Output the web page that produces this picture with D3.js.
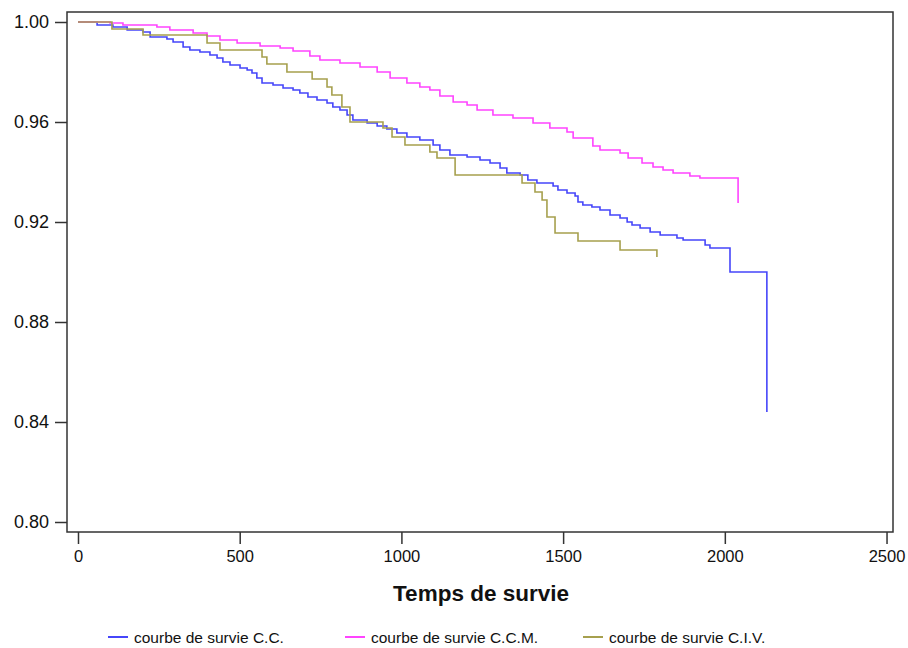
<!doctype html>
<html lang="fr">
<head>
  <meta charset="utf-8" />
  <title>Courbes de survie</title>
  <script src="https://cdn.jsdelivr.net/npm/d3@7"></script>
  <style>
    body { margin: 0; background: #fff; }
    text { font-family: Arial, "Liberation Sans", sans-serif; fill: #111; }
  </style>
</head>
<body>
  <div id="chart"></div>
  <script>
    // time (days) and survival estimate, one step per pair
    const ccTimes = [0, 59, 108, 152, 201, 223, 275, 294, 325, 346, 377, 408, 430, 448, 470, 501, 523, 538, 553, 569,
      603, 634, 665, 686, 711, 739, 770, 788, 810, 832, 850, 894, 925, 955, 986, 1017, 1057, 1098, 1119, 1150,
      1203, 1243, 1274, 1305, 1326, 1367, 1391, 1419, 1469, 1484, 1512, 1537, 1546, 1561, 1589, 1614, 1645, 1676,
      1698, 1713, 1738, 1769, 1800, 1852, 1871, 1939, 1954, 2016, 2130];
    const ccSurv = [1.000, 0.9988, 0.998, 0.9968, 0.996, 0.994, 0.9932, 0.992, 0.990, 0.9888, 0.988, 0.9868, 0.9856,
      0.984, 0.9828, 0.9816, 0.9808, 0.9796, 0.9776, 0.9756, 0.9748, 0.9736, 0.9728, 0.9716, 0.970, 0.9688, 0.9676,
      0.966, 0.9648, 0.9628, 0.9608, 0.9596, 0.9584, 0.9572, 0.9556, 0.954, 0.9528, 0.9508, 0.9488, 0.9468, 0.946,
      0.9448, 0.9436, 0.9416, 0.9396, 0.9388, 0.9368, 0.9356, 0.9344, 0.9328, 0.9316, 0.9304, 0.928, 0.9268, 0.926,
      0.9248, 0.9228, 0.9216, 0.920, 0.9188, 0.9176, 0.916, 0.9148, 0.9136, 0.9128, 0.9108, 0.9096, 0.900, 0.844];

    const ccmTimes = [0, 99, 139, 244, 284, 356, 399, 439, 492, 563, 625, 665, 717, 748, 810, 872, 925, 965, 1017,
      1057, 1088, 1119, 1160, 1203, 1234, 1283, 1345, 1407, 1459, 1512, 1531, 1592, 1614, 1676, 1701, 1744, 1778,
      1809, 1840, 1892, 1923, 2041];
    const ccmSurv = [1.000, 0.9996, 0.9988, 0.998, 0.9968, 0.9956, 0.9944, 0.9928, 0.9916, 0.9904, 0.9896, 0.9884,
      0.9864, 0.9848, 0.9836, 0.982, 0.980, 0.9776, 0.9756, 0.974, 0.9728, 0.9704, 0.968, 0.9668, 0.9648, 0.9628,
      0.9616, 0.9596, 0.9576, 0.956, 0.9536, 0.9504, 0.9488, 0.9476, 0.9456, 0.9436, 0.942, 0.9408, 0.9396, 0.9384,
      0.9376, 0.9276];

    const civTimes = [0, 105, 201, 399, 439, 569, 584, 646, 724, 770, 785, 816, 841, 943, 971, 1011, 1088, 1110,
      1166, 1373, 1413, 1435, 1450, 1475, 1546, 1676, 1790];
    const civSurv = [1.000, 0.9972, 0.9948, 0.9916, 0.9888, 0.986, 0.9832, 0.980, 0.9772, 0.974, 0.9708, 0.966,
      0.960, 0.9576, 0.954, 0.9508, 0.948, 0.9456, 0.9388, 0.9356, 0.932, 0.9288, 0.922, 0.9156, 0.9124, 0.9088,
      0.906];

    const seriesNames = ["courbe de survie C.C.", "courbe de survie C.C.M.", "courbe de survie C.I.V."];
    const seriesColors = ["#4646fa", "#ff44ff", "#a6a04e"];
    const xTicks = [0, 500, 1000, 1500, 2000, 2500];
    const yTicks = [0.80, 0.84, 0.88, 0.92, 0.96, 1.00];
    const xTitle = "Temps de survie";

    const w = 908;
    const h = 648;
    const plotLeft = 67, plotRight = 893, plotTop = 12, plotBottom = 532;

    const series = [
      { name: seriesNames[0], color: seriesColors[0], pts: ccTimes.map((t, i) => [t, ccSurv[i]]) },
      { name: seriesNames[1], color: seriesColors[1], pts: ccmTimes.map((t, i) => [t, ccmSurv[i]]) },
      { name: seriesNames[2], color: seriesColors[2], pts: civTimes.map((t, i) => [t, civSurv[i]]) }
    ];

    const x = d3.scaleLinear().domain([-34, 2520]).range([plotLeft, plotRight]);
    const y = d3.scaleLinear().domain([0.796, 1.004]).range([plotBottom, plotTop]);

    const svg = d3.select("#chart").append("svg").attr("width", w).attr("height", h);

    const line = d3.line()
      .x(d => x(d[0]))
      .y(d => y(d[1]))
      .curve(d3.curveStepAfter);

    svg.append("g")
      .selectAll("path")
      .data(series)
      .enter()
      .append("path")
      .attr("d", d => line(d.pts))
      .attr("fill", "none")
      .attr("stroke", d => d.color)
      .attr("stroke-width", 1.6);

    // frame
    svg.append("rect")
      .attr("x", plotLeft).attr("y", plotTop)
      .attr("width", plotRight - plotLeft).attr("height", plotBottom - plotTop)
      .attr("fill", "none")
      .attr("stroke", "#333")
      .attr("stroke-width", 1.5);

    const yAxis = svg.append("g")
      .attr("transform", "translate(" + plotLeft + ",0)")
      .call(d3.axisLeft(y).tickValues(yTicks).tickFormat(d3.format(".2f")).tickSize(12).tickPadding(6));
    yAxis.select(".domain").remove();
    yAxis.selectAll("line").attr("stroke", "#333").attr("stroke-width", 1.5);
    yAxis.selectAll("text").style("font-size", "18px").attr("fill", "#222");

    const xAxis = svg.append("g")
      .attr("transform", "translate(0," + plotBottom + ")")
      .call(d3.axisBottom(x).tickValues(xTicks).tickFormat(d3.format("d")).tickSize(12).tickPadding(6));
    xAxis.select(".domain").remove();
    xAxis.selectAll("line").attr("stroke", "#333").attr("stroke-width", 1.5);
    xAxis.selectAll("text").style("font-size", "16.5px").attr("fill", "#222");

    svg.append("text")
      .text(xTitle)
      .attr("x", 481)
      .attr("y", 601)
      .attr("text-anchor", "middle")
      .style("font-size", "22.5px")
      .style("font-weight", "bold");

    // legend
    const legendX = [108, 345, 583];
    const legend = svg.append("g")
      .selectAll("g")
      .data(series)
      .enter()
      .append("g")
      .attr("transform", (d, i) => "translate(" + legendX[i] + ",637)");

    legend.append("line")
      .attr("x1", 0).attr("x2", 20)
      .attr("stroke", d => d.color)
      .attr("stroke-width", 2);

    legend.append("text")
      .text(d => d.name)
      .attr("x", 26)
      .attr("y", 6)
      .style("font-size", "15.5px");
  </script>
</body>
</html>
